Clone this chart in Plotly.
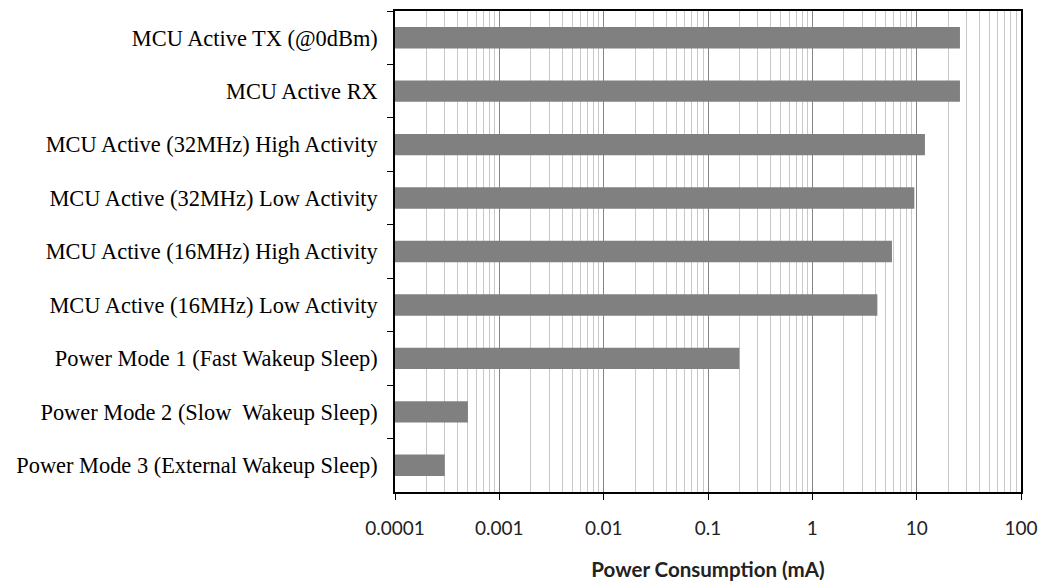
import plotly.graph_objects as go

categories = [
    "MCU Active TX (@0dBm)",
    "MCU Active RX",
    "MCU Active (32MHz) High Activity",
    "MCU Active (32MHz) Low Activity",
    "MCU Active (16MHz) High Activity",
    "MCU Active (16MHz) Low Activity",
    "Power Mode 1 (Fast Wakeup Sleep)",
    "Power Mode 2 (Slow  Wakeup Sleep)",
    "Power Mode 3 (External Wakeup Sleep)",
]
current_mA = [26, 26, 12, 9.5, 5.8, 4.2, 0.2, 0.0005, 0.0003]
tick_vals = [0.0001, 0.001, 0.01, 0.1, 1, 10, 100]
tick_text = ["0.0001", "0.001", "0.01", "0.1", "1", "10", "100"]

fig = go.Figure(go.Bar(
    y=categories, x=current_mA, orientation="h",
    marker=dict(color="#808080", line=dict(width=0)),
))

fig.update_layout(
    width=1047, height=582,
    margin=dict(l=387, r=34, t=3, b=98, autoexpand=False),
    paper_bgcolor="white", plot_bgcolor="white",
    bargap=0.6, showlegend=False,
)
fig.update_xaxes(
    type="log", range=[-4, 2],
    tickvals=tick_vals, ticktext=tick_text,
    showline=True, linecolor="black", linewidth=1.5, mirror=True,
    ticks="outside", ticklen=6, tickcolor="black",
    showgrid=True, gridcolor="#858585", gridwidth=1,
    minor=dict(dtick="D1", showgrid=True, gridcolor="#c8c8c8", gridwidth=1, ticks=""),
    tickfont=dict(family="Lato", size=19, color="#222"),
    ticklabelstandoff=12,
    title=dict(text="<b>Power Consumption (mA)</b>", font=dict(family="Lato", size=20.5, color="#222"), standoff=25),
    zeroline=False,
)
fig.update_yaxes(
    type="category", autorange="reversed",
    showline=True, linecolor="black", linewidth=1.5, mirror=True,
    ticks="outside", ticklen=6, tickcolor="black", tickson="boundaries",
    showgrid=False,
    tickfont=dict(family="Liberation Serif", size=22.4, color="black"),
    ticklabelstandoff=11,
)

fig.write_html("out.html")
